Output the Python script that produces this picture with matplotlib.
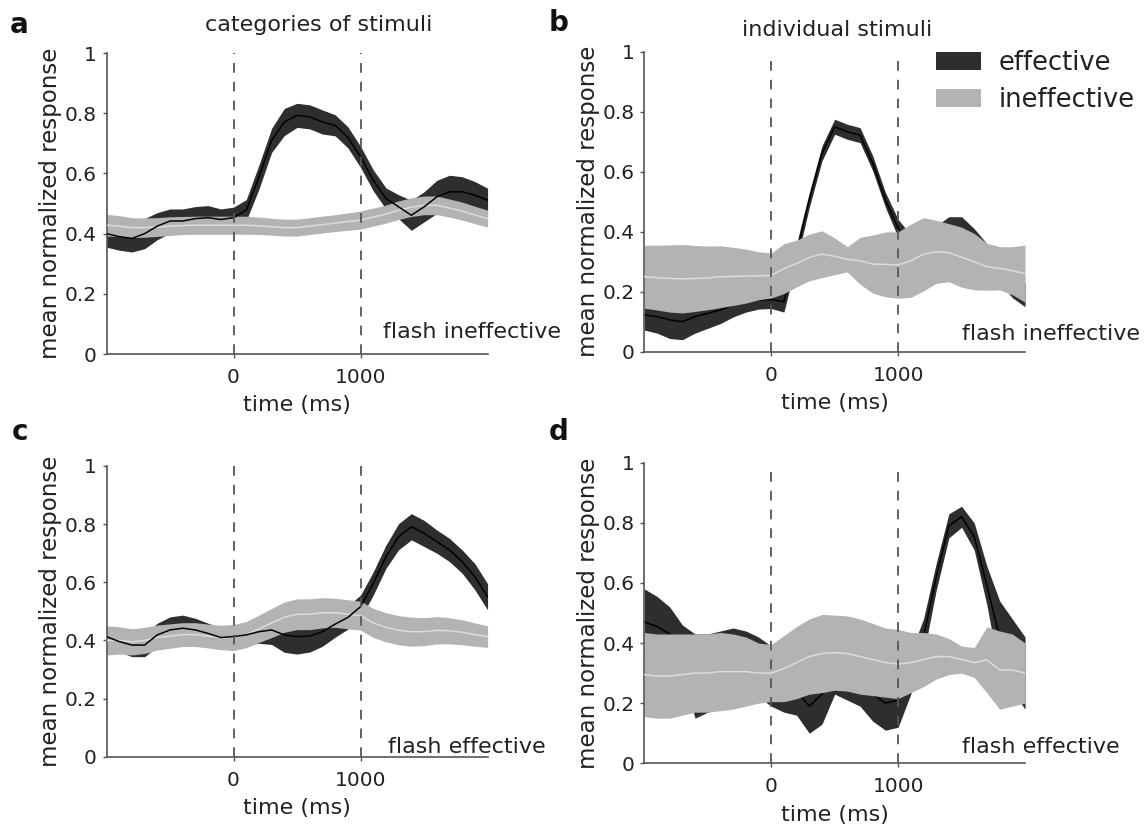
import matplotlib
matplotlib.use('Agg')
import matplotlib.pyplot as plt
from matplotlib.patches import Patch

# time axis (ms) and panel data: mean and half-width of the shaded band
time_ms = [-1000, -900, -800, -700, -600, -500, -400, -300, -200, -100, 0,
           100, 200, 300, 400, 500, 600, 700, 800, 900, 1000,
           1100, 1200, 1300, 1400, 1500, 1600, 1700, 1800, 1900, 2000]

# a: categories of stimuli, flash ineffective
a_eff_mean = [0.40, 0.39, 0.384, 0.40, 0.425, 0.442, 0.442, 0.45, 0.453, 0.447, 0.453,
              0.478, 0.588, 0.71, 0.771, 0.793, 0.788, 0.771, 0.76, 0.72, 0.655,
              0.577, 0.517, 0.489, 0.461, 0.489, 0.522, 0.539, 0.539, 0.528, 0.511]
a_eff_sem = [0.045, 0.045, 0.045, 0.05, 0.045, 0.04, 0.04, 0.04, 0.04, 0.035, 0.035,
             0.035, 0.04, 0.04, 0.045, 0.04, 0.04, 0.04, 0.035, 0.035, 0.035,
             0.035, 0.035, 0.04, 0.05, 0.05, 0.055, 0.055, 0.05, 0.045, 0.04]
a_ineff_mean = [0.428, 0.425, 0.42, 0.42, 0.422, 0.425, 0.427, 0.428, 0.428, 0.428, 0.428,
                0.428, 0.426, 0.423, 0.42, 0.42, 0.425, 0.43, 0.435, 0.44, 0.445,
                0.455, 0.465, 0.478, 0.488, 0.494, 0.494, 0.485, 0.475, 0.462, 0.45]
a_ineff_sem = [0.036, 0.035, 0.033, 0.032, 0.031, 0.031, 0.030, 0.030, 0.030, 0.030, 0.030,
               0.030, 0.029, 0.028, 0.028, 0.028, 0.028, 0.028, 0.028, 0.029, 0.030,
               0.030, 0.030, 0.031, 0.031, 0.031, 0.031, 0.030, 0.030, 0.029, 0.028]

# b: individual stimuli, flash ineffective
b_eff_mean = [0.122, 0.117, 0.106, 0.10, 0.117, 0.128, 0.139, 0.156, 0.167, 0.172, 0.174,
              0.167, 0.33, 0.506, 0.661, 0.75, 0.733, 0.722, 0.628, 0.506, 0.411,
              0.35, 0.36, 0.38, 0.41, 0.41, 0.37, 0.32, 0.27, 0.22, 0.19]
b_eff_sem = [0.05, 0.055, 0.062, 0.06, 0.055, 0.05, 0.045, 0.04, 0.035, 0.03, 0.03,
             0.035, 0.03, 0.025, 0.025, 0.025, 0.025, 0.025, 0.025, 0.025, 0.03,
             0.04, 0.04, 0.04, 0.04, 0.04, 0.04, 0.04, 0.04, 0.04, 0.04]
b_ineff_mean = [0.25, 0.247, 0.244, 0.243, 0.244, 0.246, 0.25, 0.251, 0.252, 0.253, 0.254,
                0.277, 0.294, 0.314, 0.325, 0.318, 0.308, 0.303, 0.292, 0.291, 0.289,
                0.303, 0.325, 0.333, 0.330, 0.315, 0.30, 0.283, 0.278, 0.27, 0.26]
b_ineff_sem = [0.105, 0.108, 0.112, 0.114, 0.11, 0.106, 0.103, 0.097, 0.09, 0.08, 0.075,
               0.083, 0.078, 0.078, 0.078, 0.061, 0.042, 0.078, 0.097, 0.108, 0.111,
               0.122, 0.122, 0.105, 0.097, 0.10, 0.094, 0.078, 0.072, 0.08, 0.095]

# c: categories of stimuli, flash effective
c_eff_mean = [0.413, 0.396, 0.384, 0.384, 0.419, 0.436, 0.442, 0.436, 0.424, 0.41, 0.413,
              0.419, 0.43, 0.436, 0.419, 0.413, 0.415, 0.43, 0.456, 0.479, 0.516,
              0.596, 0.688, 0.757, 0.791, 0.768, 0.74, 0.711, 0.671, 0.619, 0.55]
c_eff_sem = [0.035, 0.035, 0.04, 0.04, 0.04, 0.045, 0.045, 0.04, 0.035, 0.035, 0.035,
             0.035, 0.04, 0.05, 0.06, 0.06, 0.055, 0.05, 0.045, 0.04, 0.04,
             0.04, 0.04, 0.045, 0.045, 0.045, 0.04, 0.04, 0.04, 0.045, 0.045]
c_ineff_mean = [0.40, 0.40, 0.395, 0.40, 0.41, 0.415, 0.42, 0.42, 0.415, 0.41, 0.41,
                0.42, 0.44, 0.46, 0.48, 0.49, 0.49, 0.495, 0.495, 0.49, 0.485,
                0.46, 0.445, 0.435, 0.43, 0.43, 0.435, 0.433, 0.428, 0.42, 0.413]
c_ineff_sem = [0.05, 0.047, 0.045, 0.045, 0.043, 0.042, 0.041, 0.041, 0.041, 0.042, 0.045,
               0.045, 0.047, 0.05, 0.052, 0.053, 0.053, 0.052, 0.05, 0.05, 0.05,
               0.05, 0.05, 0.05, 0.05, 0.048, 0.047, 0.045, 0.043, 0.04, 0.037]

# d: individual stimuli, flash effective
d_eff_mean = [0.47, 0.455, 0.43, 0.38, 0.29, 0.30, 0.31, 0.33, 0.33, 0.32, 0.29,
              0.25, 0.24, 0.19, 0.23, 0.31, 0.29, 0.27, 0.23, 0.20, 0.21,
              0.30, 0.42, 0.62, 0.79, 0.82, 0.754, 0.59, 0.42, 0.36, 0.30]
d_eff_sem = [0.11, 0.10, 0.09, 0.08, 0.14, 0.13, 0.13, 0.12, 0.11, 0.10, 0.10,
             0.08, 0.08, 0.09, 0.10, 0.08, 0.08, 0.08, 0.09, 0.09, 0.09,
             0.07, 0.06, 0.045, 0.04, 0.035, 0.045, 0.065, 0.12, 0.12, 0.12]
d_ineff_mean = [0.295, 0.29, 0.29, 0.295, 0.30, 0.30, 0.305, 0.305, 0.305, 0.30, 0.30,
                0.315, 0.335, 0.355, 0.365, 0.368, 0.365, 0.355, 0.345, 0.335, 0.33,
                0.335, 0.345, 0.355, 0.355, 0.345, 0.335, 0.344, 0.31, 0.31, 0.30]
d_ineff_sem = [0.14, 0.14, 0.14, 0.135, 0.13, 0.13, 0.13, 0.125, 0.115, 0.10, 0.095,
               0.11, 0.12, 0.125, 0.13, 0.125, 0.125, 0.125, 0.12, 0.115, 0.115,
               0.10, 0.09, 0.075, 0.06, 0.045, 0.05, 0.11, 0.13, 0.12, 0.10]

DARK = '#2e2e2e'
GRAY = '#b3b3b3'
LIGHT = '#dcdcdc'
TXT = '#222222'
AXC = '#555555'

plt.rcParams['font.family'] = ['DejaVu Sans']
plt.rcParams['lines.scale_dashes'] = False

fig = plt.figure(figsize=(11.44, 8.33), dpi=100)


def band(mean, sem, sign):
    return [m + sign * s for m, s in zip(mean, sem)]


def draw_panel(rect, eff_mean, eff_sem, ineff_mean, ineff_sem, line_on_top, note, note_xy):
    ax = fig.add_axes(rect)
    ax.fill_between(time_ms, band(eff_mean, eff_sem, -1), band(eff_mean, eff_sem, 1),
                    color=DARK, lw=0, zorder=1, label='effective')
    ax.plot(time_ms, eff_mean, color='black', lw=1.1, zorder=4 if line_on_top else 1.5)
    ax.fill_between(time_ms, band(ineff_mean, ineff_sem, -1), band(ineff_mean, ineff_sem, 1),
                    color=GRAY, lw=0, zorder=2, label='ineffective')
    ax.plot(time_ms, ineff_mean, color=LIGHT, lw=1.1, zorder=3)

    for xv in [0, 1000]:
        ax.plot([xv, xv], [0, 1], color=AXC, lw=1.3, dashes=(7, 6.5), zorder=5)

    ax.set_xlim(-1000, 2000)
    ax.set_ylim(0, 1)
    ax.set_xticks([0, 1000])
    ax.set_yticks([0, 0.2, 0.4, 0.6, 0.8, 1])
    ax.set_yticklabels(['0', '0.2', '0.4', '0.6', '0.8', '1'])
    for s in ['top', 'right']:
        ax.spines[s].set_visible(False)
    for s in ['left', 'bottom']:
        ax.spines[s].set_color(AXC)
        ax.spines[s].set_linewidth(1.2)
    ax.tick_params(axis='both', direction='out', length=3, width=1, color=AXC,
                   labelsize=14.5, labelcolor=TXT)
    ax.tick_params(axis='x', pad=7)
    ax.tick_params(axis='y', pad=4)
    ax.set_xlabel('time (ms)', fontsize=16, color=TXT, labelpad=6)
    ax.set_ylabel('mean normalized response', fontsize=16.5, color=TXT, labelpad=2)
    ax.text(note_xy[0], note_xy[1], note, transform=ax.transAxes, fontsize=16,
            color=TXT, ha='left', va='baseline', zorder=6)
    return ax


ax_a = draw_panel([0.0931, 0.5750, 0.3331, 0.3613], a_eff_mean, a_eff_sem,
                  a_ineff_mean, a_ineff_sem, True, 'flash ineffective', (0.7255, 0.053))
ax_b = draw_panel([0.5632, 0.5778, 0.3328, 0.3601], b_eff_mean, b_eff_sem,
                  b_ineff_mean, b_ineff_sem, False, 'flash ineffective', (0.8345, 0.039))
ax_c = draw_panel([0.0931, 0.0916, 0.3331, 0.3490], c_eff_mean, c_eff_sem,
                  c_ineff_mean, c_ineff_sem, True, 'flash effective', (0.7387, 0.013))
ax_d = draw_panel([0.5632, 0.0837, 0.3328, 0.3609], d_eff_mean, d_eff_sem,
                  d_ineff_mean, d_ineff_sem, False, 'flash effective', (0.8345, 0.034))

# column titles
fig.text(319 / 1144, 1 - 31 / 833, 'categories of stimuli', fontsize=16, color=TXT,
         ha='center', va='baseline')
fig.text(837 / 1144, 1 - 36 / 833, 'individual stimuli', fontsize=16, color=TXT,
         ha='center', va='baseline')

# panel letters
for letter, px, py in [('a', 19, 25), ('b', 559, 23), ('c', 20, 432), ('d', 559, 432)]:
    fig.text(px / 1144, 1 - py / 833, letter, fontsize=20, fontweight='bold',
             color='#111111', ha='center', va='center')

# legend
handles = [Patch(facecolor=DARK, edgecolor='none'), Patch(facecolor=GRAY, edgecolor='none')]
fig.legend(handles, ['effective', 'ineffective'], loc='upper left',
           bbox_to_anchor=(936 / 1144, 1 - 50 / 833), bbox_transform=fig.transFigure,
           frameon=False, borderpad=0, borderaxespad=0, handlelength=1.74,
           handleheight=0.72, handletextpad=0.68, labelspacing=0.42,
           fontsize=18.5, labelcolor=TXT)

fig.savefig('out.png', dpi=100)
